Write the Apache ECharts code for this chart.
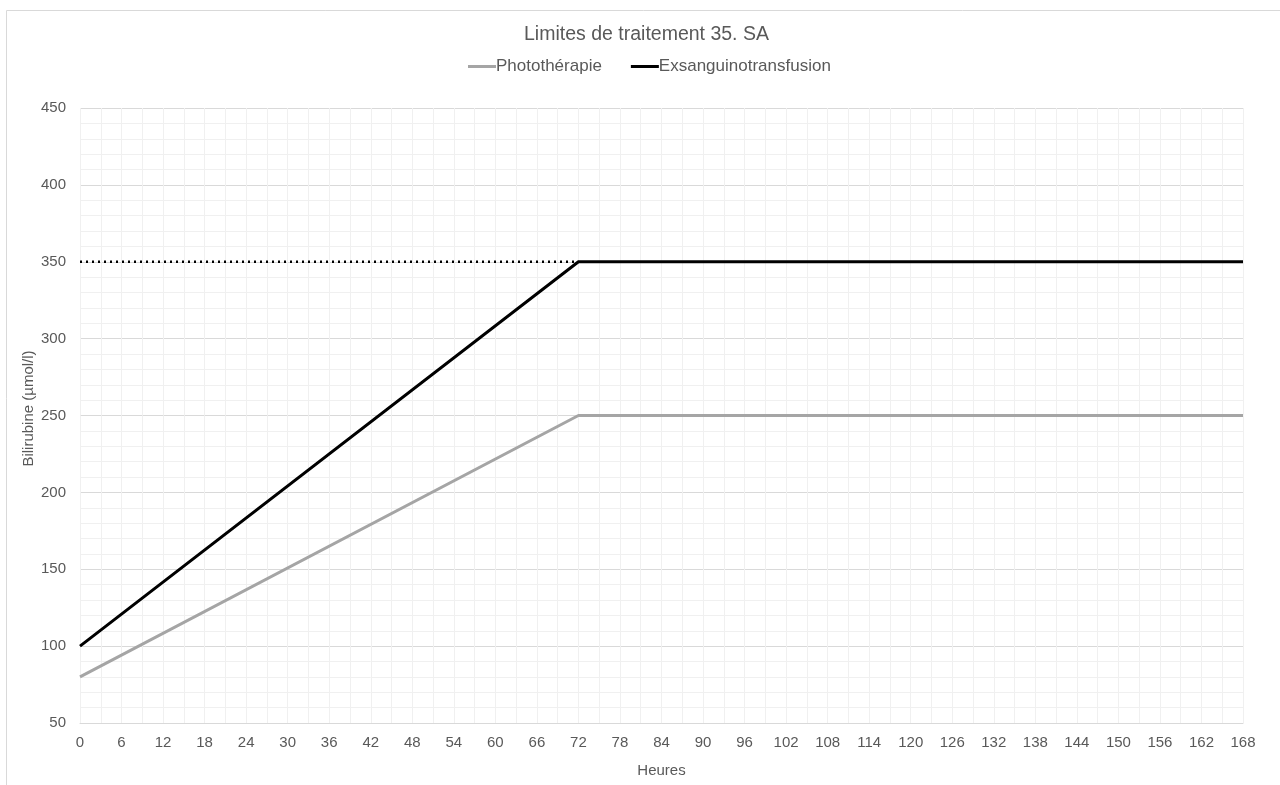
<!DOCTYPE html>
<html>
<head>
<meta charset="utf-8">
<script src="https://cdn.jsdelivr.net/npm/echarts@6/dist/echarts.min.js"></script>
<style>
  html, body { margin: 0; padding: 0; background: #fff; }
  #chart { width: 1280px; height: 785px; }
</style>
</head>
<body>
<div id="chart"></div>
<script>
// heures / valeurs
const hours = [0, 72, 168]
const photo = [80, 250, 250]
const exsang = [100, 350, 350]
const dotHours = [0, 72]
const dotValues = [350, 350]

const pairs = (xs, ys) => xs.map((x, i) => [x, ys[i]])

const txt = '#595959'
const font = '"Liberation Sans", Arial, sans-serif'

const chart = echarts.init(document.getElementById('chart'))
chart.setOption({
  animation: false,
  textStyle: { fontFamily: font },
  graphic: [
    {
      type: 'rect',
      shape: { x: 6.5, y: 10.5, width: 1300, height: 800 },
      style: { fill: 'none', stroke: '#d9d9d9', lineWidth: 1 },
      silent: true
    }
  ],
  title: {
    text: 'Limites de traitement 35. SA',
    left: 519,
    top: 20,
    textStyle: { color: txt, fontSize: 19.5, fontWeight: 'normal', fontFamily: font }
  },
  legend: {
    top: 53,
    left: 463,
    itemGap: 29,
    itemWidth: 28,
    itemHeight: 3,
    icon: 'rect',
    textStyle: { color: txt, fontSize: 17, fontFamily: font, padding: [0, 0, 0, -5] },
    data: ['Photothérapie', 'Exsanguinotransfusion']
  },
  grid: { left: 80, right: 37, top: 108, bottom: 62 },
  xAxis: {
    type: 'value',
    min: 0,
    max: 168,
    interval: 6,
    name: 'Heures',
    nameLocation: 'middle',
    nameGap: 40,
    nameTextStyle: { color: txt, fontSize: 15 },
    axisLine: { lineStyle: { color: '#d9d9d9' } },
    axisTick: { show: false },
    axisLabel: { color: txt, fontSize: 15, margin: 12 },
    splitLine: { show: true, lineStyle: { color: '#f0f0f0' } },
    minorTick: { show: false, splitNumber: 2 },
    minorSplitLine: { show: true, lineStyle: { color: '#f0f0f0' } }
  },
  yAxis: {
    type: 'value',
    min: 50,
    max: 450,
    interval: 50,
    name: 'Bilirubine (µmol/l)',
    nameLocation: 'middle',
    nameGap: 44,
    nameMoveOverlap: false,
    nameTextStyle: { color: txt, fontSize: 15, padding: [0, 0, 0, 14] },
    axisLine: { show: false },
    axisTick: { show: false },
    axisLabel: { color: txt, fontSize: 15, margin: 14 },
    splitLine: { show: true, lineStyle: { color: '#d9d9d9' } },
    minorTick: { show: false, splitNumber: 5 },
    minorSplitLine: { show: true, lineStyle: { color: '#f0f0f0' } }
  },
  series: [
    {
      name: 'Photothérapie',
      type: 'line',
      showSymbol: false,
      itemStyle: { color: '#a5a5a5' },
      lineStyle: { color: '#a5a5a5', width: 3 },
      data: pairs(hours, photo),
      z: 3
    },
    {
      name: 'Exsanguinotransfusion',
      type: 'line',
      showSymbol: false,
      itemStyle: { color: '#000' },
      lineStyle: { color: '#000', width: 3 },
      data: pairs(hours, exsang),
      z: 4
    },
    {
      name: 'limite',
      type: 'line',
      showSymbol: false,
      lineStyle: { color: '#000', width: 2.5, type: [2, 4] },
      data: pairs(dotHours, dotValues),
      z: 2
    }
  ]
})
</script>
</body>
</html>
